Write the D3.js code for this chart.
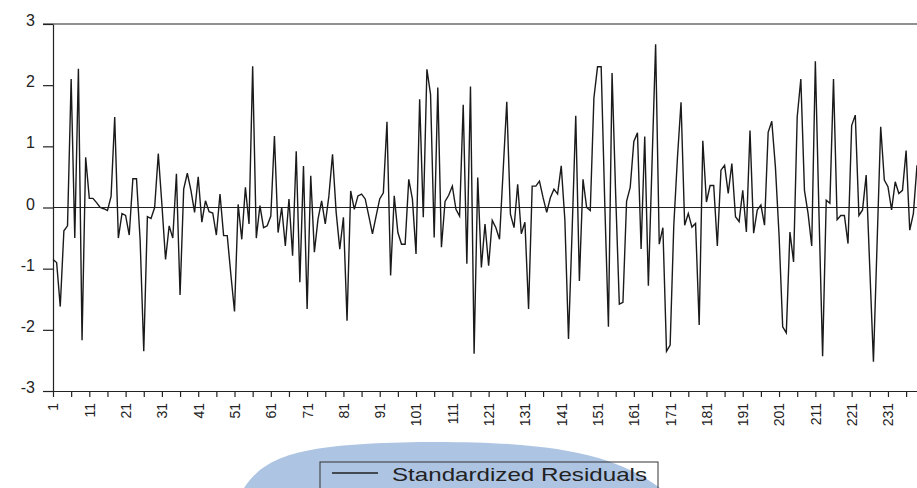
<!DOCTYPE html>
<html>
<head>
    <meta charset="utf-8">
    <title>Standardized Residuals</title>
    <script src="https://cdnjs.cloudflare.com/ajax/libs/d3/7.8.5/d3.min.js"></script>
    <style>
        body { margin: 0; background: #fff; }
        text { font-family: "Liberation Sans", Arial, sans-serif; fill: #222; }
    </style>
</head>
<body>
    <svg id="chart"></svg>

    <script>
        // residuals, obs 1..239
        const residuals = [
            -0.85, -0.9, -1.62, -0.38, -0.3, 2.1, -0.5, 2.27, -2.17, 0.82,
            0.15, 0.15, 0.08, 0.0, -0.02, -0.05, 0.18, 1.48, -0.5, -0.1,
            -0.13, -0.45, 0.47, 0.47, -0.53, -2.35, -0.15, -0.18, 0.0, 0.88,
            0.05, -0.85, -0.3, -0.5, 0.55, -1.43, 0.3, 0.56, 0.28, -0.08,
            0.5, -0.24, 0.11, -0.07, -0.09, -0.45, 0.22, -0.46, -0.46, -1.1,
            -1.7, 0.05, -0.52, 0.33, -0.27, 2.31, -0.5, 0.03, -0.33, -0.3,
            -0.14, 1.17, -0.41, 0.0, -0.63, 0.14, -0.79, 0.92, -1.22, 0.68,
            -1.66, 0.52, -0.73, -0.19, 0.11, -0.27, 0.19, 0.87, -0.08, -0.68,
            -0.16, -1.85, 0.27, -0.03, 0.19, 0.22, 0.14, -0.14, -0.43, -0.14,
            0.14, 0.24, 1.4, -1.11, 0.19, -0.41, -0.6, -0.6, 0.46, 0.14,
            -0.76, 1.77, -0.16, 2.26, 1.85, -0.49, 1.96, -0.65, 0.1, 0.2,
            0.35, -0.03, -0.14, 1.68, -0.92, 1.98, -2.39, 0.49, -0.98, -0.27,
            -0.95, -0.21, -0.33, -0.52, 0.6, 1.73, -0.11, -0.33, 0.38, -0.43,
            -0.24, -1.66, 0.35, 0.35, 0.43, 0.16, -0.08, 0.16, 0.3, 0.22,
            0.68, -0.2, -2.15, -0.38, 1.5, -1.2, 0.46, 0.0, -0.05, 1.79,
            2.3, 2.3, 0.05, -1.95, 2.2, 0.2, -1.58, -1.55, 0.1, 0.33,
            1.08, 1.22, -0.68, 1.16, -1.28, 0.7, 2.67, -0.6, -0.33, -2.35,
            -2.25, -0.3, 0.8, 1.72, -0.29, -0.1, -0.32, -0.26, -1.92, 1.09,
            0.09, 0.36, 0.36, -0.63, 0.61, 0.69, 0.23, 0.72, -0.15, -0.23,
            0.28, -0.4, 1.26, -0.42, -0.04, 0.04, -0.29, 1.23, 1.41, 0.66,
            -0.45, -1.95, -2.05, -0.4, -0.89, 1.48, 2.1, 0.28, -0.1, -0.63,
            2.39, -0.1, -2.43, 0.12, 0.07, 2.1, -0.2, -0.13, -0.13, -0.59,
            1.34, 1.51, -0.13, -0.04, 0.53, -1.0, -2.52, -0.6, 1.32, 0.45,
            0.34, -0.04, 0.42, 0.23, 0.28, 0.93, -0.37, -0.1, 0.69
        ];
        const yTicks = [-3, -2, -1, 0, 1, 2, 3];
        const xTickObs = d3.range(1, 240, 5);
        const xLabelObs = d3.range(1, 240, 10);
        const seriesName = "Standardized Residuals";

        const width = 917, height = 488;

        const svg = d3.select("#chart")
            .attr("width", width)
            .attr("height", height);

        const x = d3.scaleLinear().domain([1, 239]).range([53, 917]);
        const y = d3.scaleLinear().domain([-3, 3]).range([391, 24]);

        // faint blue watermark behind the legend
        svg.append("path")
            .attr("d", "M 244 488 C 266 455, 300 444, 420 442 C 545 441, 612 452, 660 488 Z")
            .attr("fill", "#adc4e3");

        // frame: top line and zero line
        svg.append("line")
            .attr("x1", 43).attr("x2", width)
            .attr("y1", y(3)).attr("y2", y(3))
            .attr("stroke", "#222").attr("stroke-width", 1.2);

        svg.append("line")
            .attr("x1", x(1)).attr("x2", width)
            .attr("y1", y(0)).attr("y2", y(0))
            .attr("stroke", "#222").attr("stroke-width", 1);

        const yAxis = svg.append("g")
            .attr("transform", `translate(${x(1)},0)`)
            .call(d3.axisLeft(y).tickValues(yTicks).tickSize(10).tickSizeOuter(0).tickPadding(8)
                .tickFormat(d => String(d)));
        yAxis.selectAll("text")
            .attr("dy", "0.1em")
            .style("font-size", "16px");

        const xAxis = svg.append("g")
            .attr("transform", `translate(0,${y(-3)})`)
            .call(d3.axisBottom(x).tickValues(xTickObs).tickSize(6).tickSizeOuter(0)
                .tickFormat(d => xLabelObs.includes(d) ? String(d) : ""));
        xAxis.selectAll("text")
            .attr("transform", "rotate(-90)")
            .attr("text-anchor", "end")
            .attr("x", -12)
            .attr("y", 0)
            .attr("dy", "0.35em")
            .style("font-size", "14px");

        svg.selectAll(".domain, .tick line")
            .attr("stroke", "#222")
            .attr("stroke-width", 1.2);

        const line = d3.line()
            .x((d, i) => x(i + 1))
            .y(d => y(d));

        svg.append("path")
            .datum(residuals)
            .attr("d", line)
            .attr("fill", "none")
            .attr("stroke", "#1a1a1a")
            .attr("stroke-width", 1.4)
            .attr("stroke-linejoin", "miter");

        // legend
        const legend = svg.append("g");
        legend.append("rect")
            .attr("x", 320).attr("y", 462)
            .attr("width", 338).attr("height", 40)
            .attr("fill", "none")
            .attr("stroke", "#333");
        legend.append("line")
            .attr("x1", 332).attr("x2", 378)
            .attr("y1", 473).attr("y2", 473)
            .attr("stroke", "#222").attr("stroke-width", 1.4);
        legend.append("text")
            .attr("x", 392).attr("y", 481)
            .attr("textLength", 255)
            .attr("lengthAdjust", "spacingAndGlyphs")
            .style("font-size", "19px")
            .text(seriesName);
    </script>
</body>
</html>
